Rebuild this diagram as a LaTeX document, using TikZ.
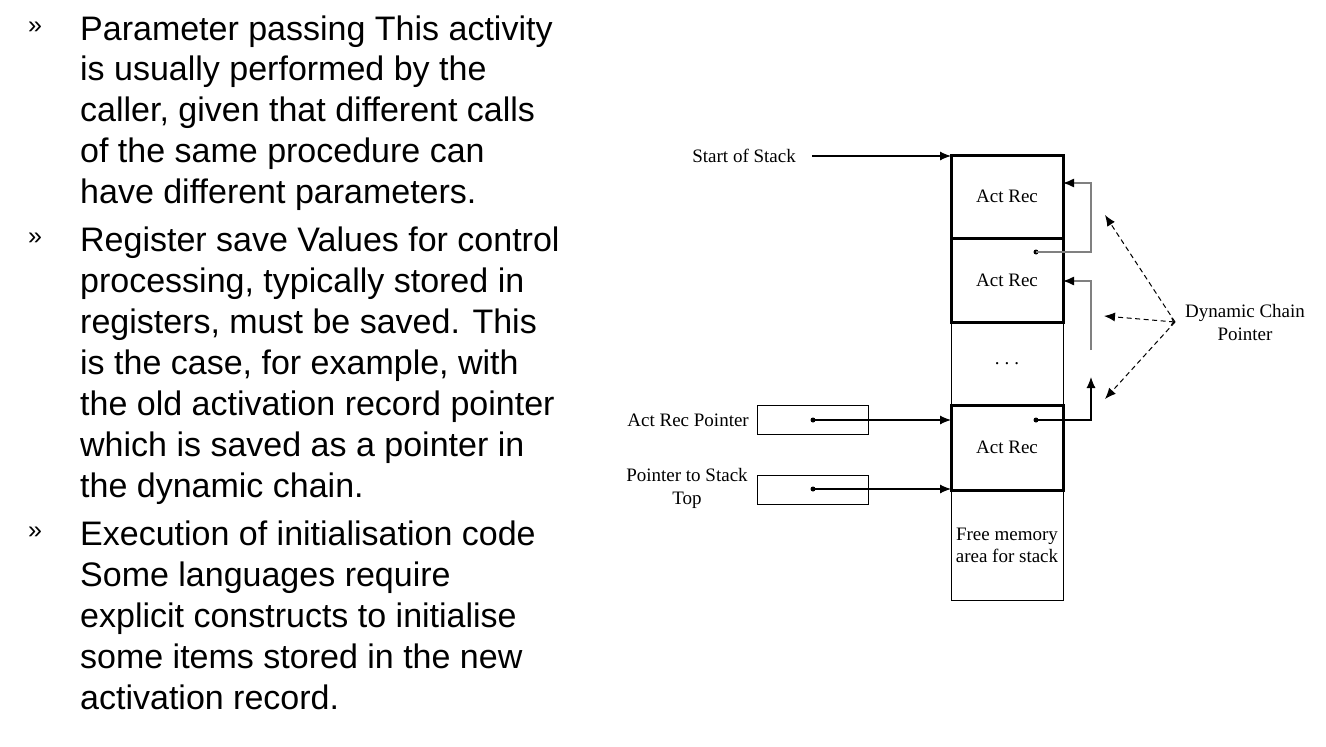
\documentclass[tikz,border=0pt]{standalone}
\usepackage{fontspec}
\setmainfont{Liberation Serif}
\newfontfamily\arialf{Liberation Sans}
\usetikzlibrary{arrows.meta}
\begin{document}
\begin{tikzpicture}[x=1pt,y=-1pt,
  body/.style={anchor=base west,inner sep=0pt,font=\arialf\fontsize{34}{40}\selectfont},
  bul/.style={anchor=base west,inner sep=0pt,font=\arialf\fontsize{25}{28}\selectfont},
  lbl/.style={inner sep=0pt,font=\fontsize{19}{23}\selectfont,align=center},
  rec/.style={draw,line width=3pt,minimum width=112pt,inner sep=0pt,outer sep=0pt,font=\fontsize{19}{23}\selectfont},
  thin/.style={draw,line width=1pt,minimum width=112pt,inner sep=0pt,outer sep=0pt,font=\fontsize{19}{23}\selectfont,align=center},
  pbox/.style={draw,line width=1pt,minimum width=111pt,minimum height=29pt,inner sep=0pt},
  arr/.style={line width=1.1pt,-{Latex[length=11pt,width=9pt]}},
  chain/.style={gray,line width=1.3pt,-{Latex[length=11pt,width=9pt,color=black]}},
  dasharr/.style={dash pattern=on 5pt off 3.5pt,line width=1pt,-{Latex[length=11pt,width=9pt]}},
  dotc/.style={circle,fill,inner sep=0pt,minimum size=5pt}
]
\useasboundingbox (0,0) rectangle (1326,747);
% bullets
\node[bul] (b1) at (28,33) {»};
\node[bul] (b2) at (28,244) {»};
\node[bul] (b3) at (28,538) {»};
% text lines
\node[body] (t1) at (80,40) {Parameter passing This activity};
\node[body] (t2) at (80,80) {is usually performed by the};
\node[body] (t3) at (80,121) {caller, given that different calls};
\node[body] (t4) at (80,162) {of the same procedure can};
\node[body] (t5) at (80,203) {have different parameters.};
\node[body] (t6) at (80,251) {Register save Values for control};
\node[body] (t7) at (80,292) {processing, typically stored in};
\node[body] (t8) at (80,333) {registers, must be saved. This};
\node[body] (t9) at (80,374) {is the case, for example, with};
\node[body] (t10) at (80,415) {the old activation record pointer};
\node[body] (t11) at (80,456) {which is saved as a pointer in};
\node[body] (t12) at (80,497) {the dynamic chain.};
\node[body] (t13) at (80,545) {Execution of initialisation code};
\node[body] (t14) at (80,586) {Some languages require};
\node[body] (t15) at (80,627) {explicit constructs to initialise};
\node[body] (t16) at (80,668) {some items stored in the new};
\node[body] (t17) at (80,709) {activation record.};
% stack
\node[thin,minimum height=83pt] (dots) at (1007,363.5) {\raisebox{-1pt}{.\hspace{5pt}.\hspace{5pt}.}};
\node[thin,minimum height=110pt] (free) at (1007,545) {Free memory\\[-1pt]area for stack};
\node[rec,minimum height=83pt] (ar1) at (1007,196.5) {\raisebox{-1pt}{Act Rec}};
\node[rec,minimum height=84pt] (ar2) at (1007,280) {\raisebox{-1pt}{Act Rec}};
\node[rec,minimum height=85pt] (ar3) at (1007,447.5) {\raisebox{-1pt}{Act Rec}};
% labels
\node[lbl,anchor=east] (sos) at (796,156) {Start of Stack};
\coordinate (sosA) at (812,156);
\draw[arr] (sosA) -- (sosA -| ar1.west);
\node[pbox] (arp) at (812.5,419.5) {};
\node[pbox] (pst) at (812.5,489.5) {};
\node[lbl,anchor=east] (arpl) at (749,420) {Act Rec Pointer};
\node[lbl] (pstl) at (687,488) {Pointer to Stack\\Top};
\node[dotc] (d1) at (813,420) {};
\node[dotc] (d2) at (813,489) {};
\draw[arr] (d1.center) -- (d1 -| ar3.west);
\draw[arr] (d2.center) -- (d2 -| ar3.west);
% dynamic chain
\node[dotc] (d3) at (1036,252) {};
\node[dotc] (d4) at (1036,420) {};
\coordinate (c2s) at (1091,350);
\draw[chain] (d3.center) -| (1091,183) -- (ar1.east |- 0,183);
\draw[chain] (c2s) -- (1091,281) -- (ar2.east |- 0,281);
\draw[arr] (d4.center) -| (1091,377);
\node[lbl] (dcp) at (1245,322) {Dynamic Chain\\Pointer};
\coordinate (dc) at (1175,322);
\coordinate (e1) at (1105,215);
\coordinate (e2) at (1104,316);
\coordinate (e3) at (1105,399);
\draw[dasharr] (dc) -- (e1);
\draw[dasharr,{To[length=4pt]}-{Latex[length=11pt,width=9pt]}] (dc) -- (e2);
\draw[dasharr] (dc) -- (e3);
\end{tikzpicture}
\end{document}
